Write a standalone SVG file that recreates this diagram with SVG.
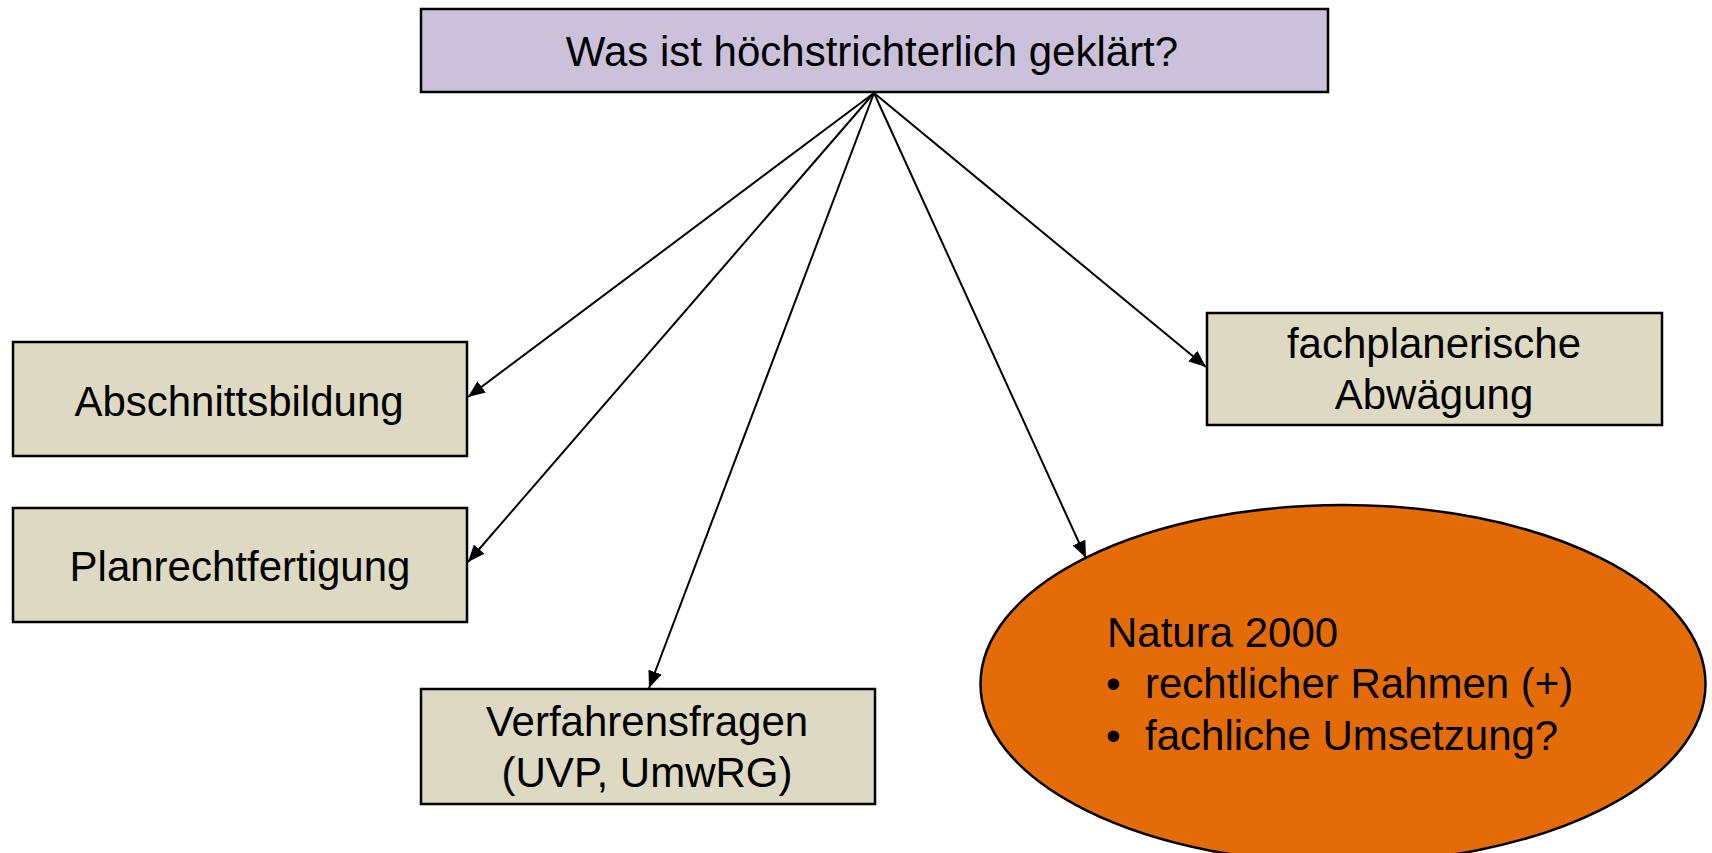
<svg xmlns="http://www.w3.org/2000/svg" width="1712" height="853" viewBox="0 0 1712 853">
<style>
.t{font-family:"Liberation Sans",Arial,sans-serif;font-size:42px;fill:#000}
.m{text-anchor:middle}
.box{stroke:#000;stroke-width:2.5}
.c{stroke:#000;stroke-width:2;fill:none;marker-end:url(#ah)}
</style>
<defs>
<marker id="ah" markerUnits="userSpaceOnUse" markerWidth="18" markerHeight="14" refX="17" refY="7" orient="auto">
<path d="M0,0 L17,7 L0,14 z" fill="#000"/>
</marker>
</defs>
<rect width="1712" height="853" fill="#fff"/>
<g id="n-natura">
<ellipse cx="1343" cy="684" rx="362.5" ry="179" fill="#E36C09" stroke="#000" stroke-width="2.5"/>
<text class="t" x="1107" y="647">Natura 2000</text>
<text class="t" x="1106" y="698">•</text>
<text class="t" x="1145" y="698">rechtlicher Rahmen (+)</text>
<text class="t" x="1106" y="750">•</text>
<text class="t" x="1145" y="750">fachliche Umsetzung?</text>
</g>
<g id="connectors">
<line class="c" x1="874" y1="93" x2="468" y2="397"/>
<line class="c" x1="874" y1="93" x2="468" y2="562"/>
<line class="c" x1="874" y1="93" x2="649" y2="688"/>
<line class="c" x1="874" y1="93" x2="1086" y2="558"/>
<line class="c" x1="874" y1="93" x2="1206" y2="367"/>
</g>
<g id="n-top">
<rect class="box" x="421" y="9" width="907" height="83" fill="#CCC1DA"/>
<text class="t m" x="872" y="66">Was ist höchstrichterlich geklärt?</text>
</g>
<g id="n-abschnitt">
<rect class="box" x="13" y="342" width="454" height="114" fill="#DDD9C3"/>
<text class="t m" x="239" y="416">Abschnittsbildung</text>
</g>
<g id="n-planrecht">
<rect class="box" x="13" y="508" width="454" height="114" fill="#DDD9C3"/>
<text class="t m" x="240" y="581">Planrechtfertigung</text>
</g>
<g id="n-verfahren">
<rect class="box" x="421" y="689" width="454" height="115" fill="#DDD9C3"/>
<text class="t m" x="647" y="736">Verfahrensfragen</text>
<text class="t m" x="647" y="787">(UVP, UmwRG)</text>
</g>
<g id="n-fachplan">
<rect class="box" x="1207" y="313" width="455" height="112" fill="#DDD9C3"/>
<text class="t m" x="1434" y="358">fachplanerische</text>
<text class="t m" x="1434" y="409">Abwägung</text>
</g>
</svg>
